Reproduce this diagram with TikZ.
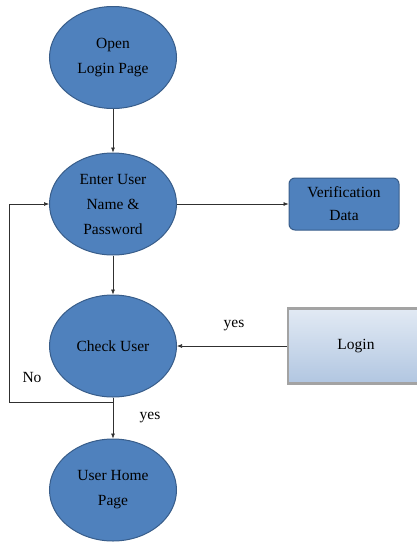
\documentclass[tikz,border=0pt]{standalone}
\usepackage{fontspec}
\setmainfont{Liberation Serif}
\usepackage{tikz}
\usetikzlibrary{shapes.geometric,arrows.meta}
\definecolor{stepblue}{HTML}{4F81BD}
\definecolor{stepedge}{HTML}{385D8A}
\definecolor{lineclr}{HTML}{303030}
\definecolor{logintop}{HTML}{E2EAF4}
\definecolor{loginbot}{HTML}{B1C6E1}
\definecolor{loginedge}{HTML}{A3A3A3}
\tikzset{
  process/.style={ellipse, fill=stepblue, draw=stepedge, line width=1pt, inner sep=0pt,
    minimum width=127pt, minimum height=102pt, align=center, font=\fontsize{15.5}{25}\selectfont},
  datastore/.style={rectangle, rounded corners=6pt, fill=stepblue, draw=stepedge, line width=1pt,
    minimum width=110pt, minimum height=52pt, align=center, font=\fontsize{15.5}{23}\selectfont},
  actor/.style={rectangle, top color=logintop, bottom color=loginbot,
    draw=loginedge, line width=2.5pt, minimum width=136pt, minimum height=75pt, font=\fontsize{15.5}{18}\selectfont},
  conn/.style={-{Latex[length=5pt,width=4pt]}, line width=0.6pt, draw=lineclr},
  flowtext/.style={font=\fontsize{15.5}{18}\selectfont, inner sep=1pt},
}
\begin{document}
\begin{tikzpicture}[x=1pt, y=-1pt]
  \useasboundingbox (0,0) rectangle (416,544);
  % Abläufe
  \node[process] (open)  at (113,57.5) {Open\\Login Page};
  \node[process] (enter) at (113,204)  {Enter User\\Name \&\\Password};
  \node[process] (check) at (113,346)  {Check User};
  \node[process] (home)  at (113,490)  {User Home\\Page};
  \node[datastore] (verif) at (344,204) {Verification\\Data};
  \node[actor] (login) at (356,346)    {Login};
  % Verbindungen
  \draw[conn] (open) -- (enter);
  \draw[conn] (enter) -- (verif);
  \draw[conn] (enter) -- (check);
  \draw[conn] (login) -- (check);
  \draw[conn] (check) -- (home);
  \coordinate (loop) at (9,402);
  \draw[conn] (check.south) |- (loop) |- (enter.west);
  \node[flowtext] (yesa) at (234,326) {yes};
  \node[flowtext] (yesb) at (150,418) {yes};
  \node[flowtext] (no)   at (32,377)  {No};
\end{tikzpicture}
\end{document}
